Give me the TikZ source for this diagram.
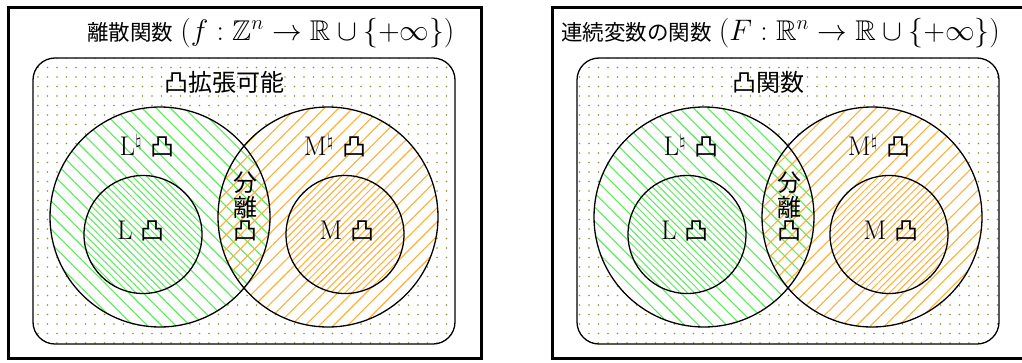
\documentclass[tikz,border=0pt]{standalone}
\usepackage{fontspec}
\usepackage{amssymb}
\usepackage{graphicx}
\usetikzlibrary{patterns.meta}
\newfontfamily\jpfont{Noto Sans CJK JP}
\newcommand{\jt}[1]{{\fontsize{21.5}{24}\jpfont #1}}
\newcommand{\jl}[1]{{\fontsize{24}{26}\jpfont #1}}
\newcommand{\bigmath}[1]{\scalebox{1.19}{$#1$}}
\definecolor{hgreen}{RGB}{90,235,90}
\definecolor{horange}{RGB}{255,175,50}
\definecolor{dotcol}{RGB}{150,145,50}
\tikzset{
  frame/.style={draw=black,line width=3pt},
  region/.style={draw=black,line width=1.3pt,rounded corners=22pt,
    pattern={Dots[distance=9.5pt,radius=0.95pt]},pattern color=dotcol},
  gline/.style={pattern={Lines[angle=-45,distance=10pt,line width=1.1pt]},pattern color=hgreen},
  oline/.style={pattern={Lines[angle=45,distance=10pt,line width=1.1pt]},pattern color=horange},
  gdense/.style={pattern={Lines[angle=-45,distance=5pt,line width=1pt]},pattern color=hgreen},
  odense/.style={pattern={Lines[angle=45,distance=5pt,line width=1pt]},pattern color=horange},
  ring/.style={draw=black,line width=1.3pt},
  title/.style={inner sep=0pt,anchor=west,font=\fontsize{24}{28}\selectfont},
  lab/.style={inner sep=0pt,font=\fontsize{27}{30}\selectfont}
}
\newcommand{\venn}[2]{%
  \draw[region] (33,58) rectangle (455,344);
  \fill[white] (160,217) circle (110);
  \fill[white] (328,217) circle (110);
  \fill[gline] (160,217) circle (110);
  \fill[oline] (328,217) circle (110);
  \fill[white] (143,234.5) circle (59);
  \fill[gdense] (143,234.5) circle (59);
  \fill[white] (345,234.5) circle (59);
  \fill[odense] (345,234.5) circle (59);
  \draw[ring] (160,217) circle (110);
  \draw[ring] (328,217) circle (110);
  \draw[ring] (143,234.5) circle (59);
  \draw[ring] (345,234.5) circle (59);
  \node[lab] (#1reg) at (224,82) {\jl{#2}};
  \node[lab] (#1Ln) at (147,146) {L$^\natural$ \jl{凸}};
  \node[lab] (#1Mn) at (335,146) {M$^\natural$ \jl{凸}};
  \node[lab] (#1L) at (141,231) {L \jl{凸}};
  \node[lab] (#1M) at (347,231) {M \jl{凸}};
  \node[lab] (#1s1) at (245,183) {\jl{分}};
  \node[lab] (#1s2) at (245,207) {\jl{離}};
  \node[lab] (#1s3) at (245,231) {\jl{凸}};
}
\begin{document}
\begin{tikzpicture}[x=1pt,y=-1pt]
\useasboundingbox (0,0) rectangle (1022,362);
\fill[white] (0,0) rectangle (1022,362);
% left panel
\draw[frame] (8,7) rectangle (481,358);
\venn{a}{凸拡張可能}
\node[title] (atitle) at (87,33) {\jt{離散関数} \bigmath{(f:\mathbb{Z}^n\to\mathbb{R}\cup\{+\infty\})}};
% right panel
\begin{scope}[xshift=544pt]
\draw[frame] (8,7) rectangle (479,358);
\venn{b}{凸関数}
\end{scope}
\node[title] (btitle) at (561,33) {\jt{連続変数の関数} \bigmath{(F:\mathbb{R}^n\to\mathbb{R}\cup\{+\infty\})}};
\end{tikzpicture}
\end{document}
